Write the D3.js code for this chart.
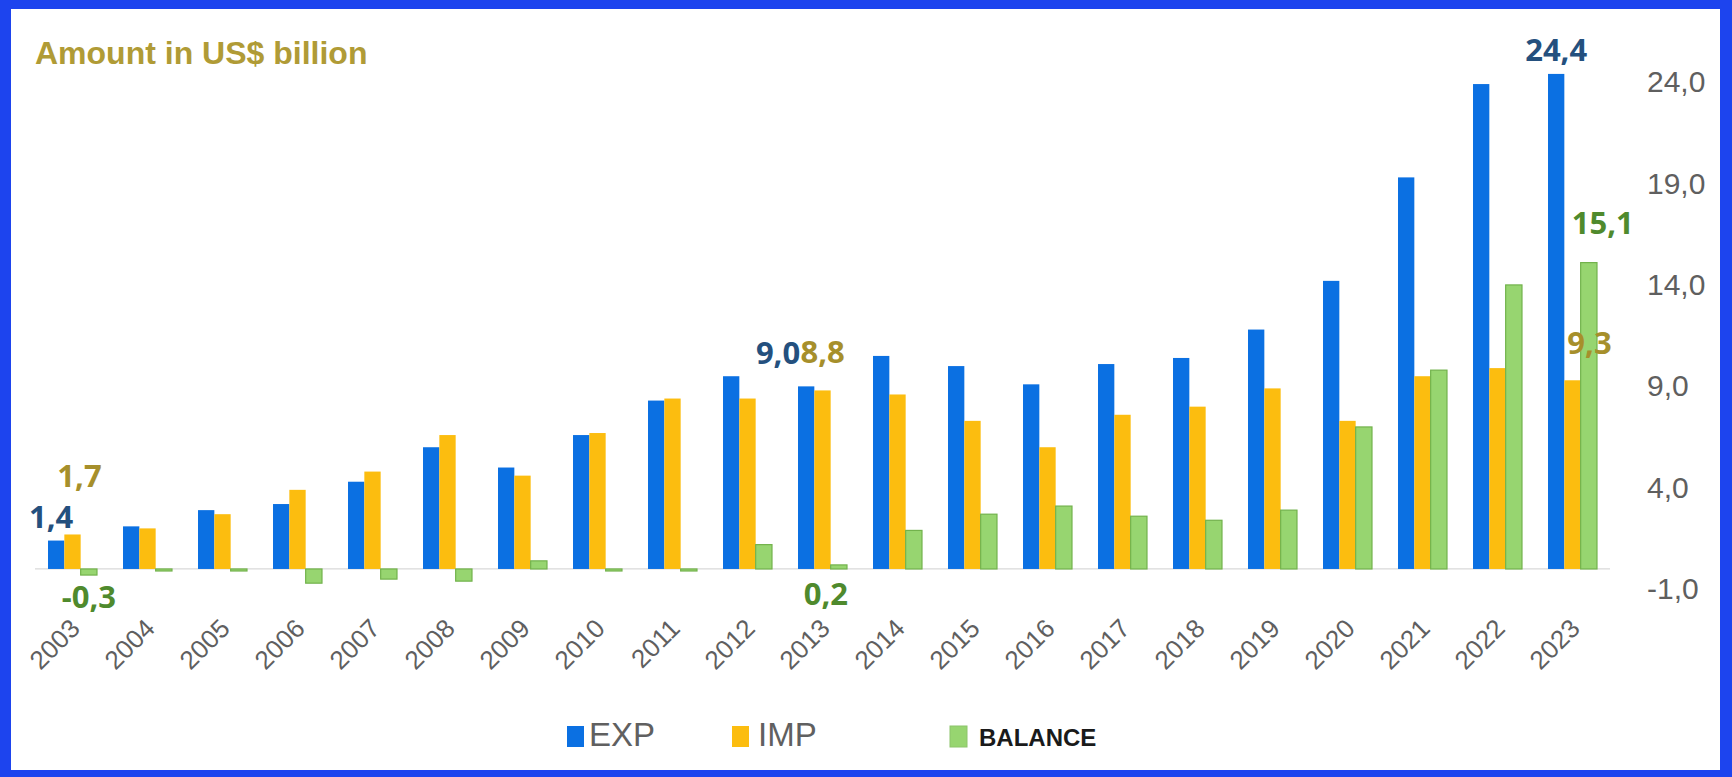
<!DOCTYPE html>
<html>
<head>
<meta charset="utf-8">
<script src="https://cdn.jsdelivr.net/npm/d3@7"></script>
<style>
  html, body { margin: 0; padding: 0; background: #1d44ee; }
  svg { display: block; }
</style>
</head>
<body>
<svg id="chart" width="1732" height="777"></svg>
<script>
// ---------- data ----------
const years = ["2003","2004","2005","2006","2007","2008","2009","2010","2011","2012","2013",
               "2014","2015","2016","2017","2018","2019","2020","2021","2022","2023"];
const expValues = [1.4, 2.1, 2.9, 3.2, 4.3, 6.0, 5.0, 6.6, 8.3, 9.5, 9.0,
                   10.5, 10.0, 9.1, 10.1, 10.4, 11.8, 14.2, 19.3, 23.9, 24.4];
const impValues = [1.7, 2.0, 2.7, 3.9, 4.8, 6.6, 4.6, 6.7, 8.4, 8.4, 8.8,
                   8.6, 7.3, 6.0, 7.6, 8.0, 8.9, 7.3, 9.5, 9.9, 9.3];
const balValues = [-0.3, -0.1, -0.1, -0.7, -0.5, -0.6, 0.4, -0.1, -0.1, 1.2, 0.2,
                   1.9, 2.7, 3.1, 2.6, 2.4, 2.9, 7.0, 9.8, 14.0, 15.1];
const seriesNames = ["EXP", "IMP", "BALANCE"];
const yTickValues = [-1, 4, 9, 14, 19, 24];
const titleText = "Amount in US$ billion";
// labelled points: [year, series]
const labelledPoints = [
  ["2003","EXP"],["2003","IMP"],["2003","BALANCE"],
  ["2013","EXP"],["2013","IMP"],["2013","BALANCE"],
  ["2023","EXP"],["2023","IMP"],["2023","BALANCE"]
];

// ---------- setup ----------
const svg = d3.select("#chart");
const seriesData = { EXP: expValues, IMP: impValues, BALANCE: balValues };
const colors = { EXP: "#0b70e2", IMP: "#fcbd0f", BALANCE: "#97d570" };
const labelColors = { EXP: "#24507e", IMP: "#a68f2b", BALANCE: "#4f8a2d" };

const locale = d3.formatLocale({ decimal: ",", thousands: ".", grouping: [3], currency: ["", ""], minus: "-" });
const fmt1 = locale.format(".1f");

// white panel
svg.append("rect").attr("x", 11).attr("y", 9).attr("width", 1709).attr("height", 761).attr("fill", "#ffffff");

const x0 = d3.scaleBand().domain(years).range([35, 1610]).paddingInner(0.347).paddingOuter(0.1735);
const x1 = d3.scaleBand().domain(seriesNames).range([0, x0.bandwidth()]).padding(0);
const y = d3.scaleLinear().domain([-1.5, 25.5]).range([599.4, 51.6]);

// zero baseline
svg.append("line")
  .attr("x1", x0.range()[0]).attr("x2", x0.range()[1])
  .attr("y1", y(0)).attr("y2", y(0))
  .attr("stroke", "#d9d9d9").attr("stroke-width", 1.2);

// bars
const groups = svg.append("g").selectAll("g").data(years).join("g")
  .attr("transform", d => `translate(${x0(d)},0)`);

groups.selectAll("rect")
  .data((yr, i) => seriesNames.map(s => ({ s, v: seriesData[s][i] })))
  .join("rect")
  .attr("x", d => x1(d.s))
  .attr("width", x1.bandwidth())
  .attr("y", d => y(Math.max(0, d.v)))
  .attr("height", d => Math.abs(y(d.v) - y(0)))
  .attr("fill", d => colors[d.s])
  .attr("stroke", d => d.s === "BALANCE" ? "#72b24c" : "none")
  .attr("stroke-width", d => d.s === "BALANCE" ? 1.2 : 0);

// right axis
const yAxis = d3.axisRight(y).tickValues(yTickValues).tickFormat(d => fmt1(d)).tickSize(0).tickPadding(0);
const gy = svg.append("g").attr("transform", "translate(1647,0)").call(yAxis);
gy.select(".domain").remove();
gy.selectAll("text")
  .attr("fill", "#5f5f5f")
  .style("font-family", "'Liberation Sans', Arial, sans-serif")
  .style("font-size", "30px");

// bottom axis
const xAxis = d3.axisBottom(x0).tickSize(0).tickPadding(0);
const gx = svg.append("g").attr("transform", "translate(0,630)").call(xAxis);
gx.select(".domain").remove();
gx.selectAll("text")
  .attr("x", 0).attr("y", 0).attr("dy", 0)
  .attr("text-anchor", "end")
  .attr("transform", "translate(9,0) rotate(-45)")
  .attr("fill", "#5f5f5f")
  .style("font-family", "'Liberation Sans', Arial, sans-serif")
  .style("font-size", "26px");

// data labels
const labelPos = {
  "2003|EXP":     { dx: -5,  dy: -13, anchor: "middle" },
  "2003|IMP":     { dx: 7,   dy: -47, anchor: "middle" },
  "2003|BALANCE": { dx: 0,   dy: 33,  anchor: "middle" },
  "2013|EXP":     { dx: -6,  dy: -22, anchor: "end" },
  "2013|IMP":     { dx: -22, dy: -27, anchor: "start" },
  "2013|BALANCE": { dx: -13, dy: 40,  anchor: "middle" },
  "2023|EXP":     { dx: 0,   dy: -13, anchor: "middle" },
  "2023|IMP":     { dx: 17,  dy: -26, anchor: "middle" },
  "2023|BALANCE": { dx: 14,  dy: -29, anchor: "middle" }
};
svg.append("g").selectAll("text").data(labelledPoints).join("text")
  .each(function([yr, s]) {
    const i = years.indexOf(yr);
    const v = seriesData[s][i];
    const p = labelPos[yr + "|" + s];
    const cx = x0(yr) + x1(s) + x1.bandwidth() / 2;
    d3.select(this)
      .attr("x", cx + p.dx)
      .attr("y", y(v) + p.dy)
      .attr("text-anchor", p.anchor)
      .attr("fill", labelColors[s])
      .text(fmt1(v));
  })
  .style("font-family", "'Open Sans', 'Liberation Sans', sans-serif")
  .style("font-weight", "bold")
  .style("font-size", "31px");

// title
svg.append("text")
  .attr("x", 35).attr("y", 64)
  .attr("fill", "#b09b36")
  .style("font-family", "'Liberation Sans', Arial, sans-serif")
  .style("font-weight", "bold")
  .style("font-size", "32px")
  .text(titleText);

// legend
const legendItems = [
  { s: "EXP", rx: 567, tx: 589, size: 33, color: "#606060", weight: "normal" },
  { s: "IMP", rx: 732, tx: 758, size: 33, color: "#606060", weight: "normal" },
  { s: "BALANCE", rx: 950, tx: 979, size: 24, color: "#1a1a1a", weight: "bold" }
];
const lg = svg.append("g");
legendItems.forEach(it => {
  lg.append("rect").attr("x", it.rx).attr("y", 726).attr("width", 17).attr("height", 21)
    .attr("fill", colors[it.s])
    .attr("stroke", it.s === "BALANCE" ? "#8cc46a" : "none");
  lg.append("text").attr("x", it.tx).attr("y", 746)
    .attr("fill", it.color)
    .style("font-family", "'Liberation Sans', Arial, sans-serif")
    .style("font-weight", it.weight)
    .style("font-size", it.size + "px")
    .text(it.s);
});
</script>
</body>
</html>
